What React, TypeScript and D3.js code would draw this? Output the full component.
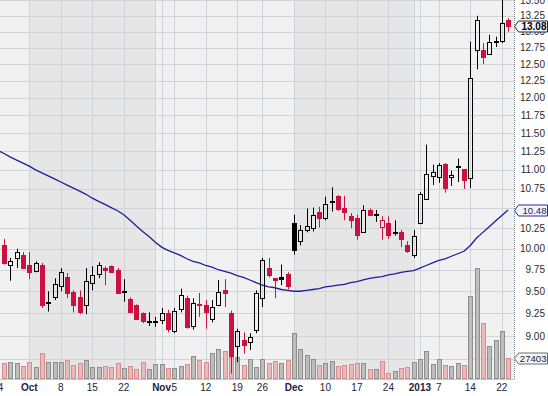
import React, { useEffect, useRef } from 'react';
import * as d3 from 'd3';

// trading days on screen, Sep 24 2012 .. Jan 23 2013 (Oct 29-30 closed)
const dates = [
  '2012-09-24', '2012-09-25', '2012-09-26', '2012-09-27', '2012-09-28',
  '2012-10-01', '2012-10-02', '2012-10-03', '2012-10-04', '2012-10-05',
  '2012-10-08', '2012-10-09', '2012-10-10', '2012-10-11', '2012-10-12',
  '2012-10-15', '2012-10-16', '2012-10-17', '2012-10-18', '2012-10-19',
  '2012-10-22', '2012-10-23', '2012-10-24', '2012-10-25', '2012-10-26', '2012-10-31',
  '2012-11-01', '2012-11-02', '2012-11-05', '2012-11-06', '2012-11-07', '2012-11-08', '2012-11-09',
  '2012-11-12', '2012-11-13', '2012-11-14', '2012-11-15', '2012-11-16',
  '2012-11-19', '2012-11-20', '2012-11-21', '2012-11-23',
  '2012-11-26', '2012-11-27', '2012-11-28', '2012-11-29', '2012-11-30',
  '2012-12-03', '2012-12-04', '2012-12-05', '2012-12-06', '2012-12-07',
  '2012-12-10', '2012-12-11', '2012-12-12', '2012-12-13', '2012-12-14',
  '2012-12-17', '2012-12-18', '2012-12-19', '2012-12-20', '2012-12-21',
  '2012-12-24', '2012-12-26', '2012-12-27', '2012-12-28', '2012-12-31',
  '2013-01-02', '2013-01-03', '2013-01-04',
  '2013-01-07', '2013-01-08', '2013-01-09', '2013-01-10', '2013-01-11',
  '2013-01-14', '2013-01-15', '2013-01-16', '2013-01-17', '2013-01-18',
  '2013-01-22', '2013-01-23',
];

// candles start on Sep 25 (Sep 24 is off the left edge)
const open = [
  10.05, 9.81, 9.89, 9.93, 9.80, 9.73, 9.80, 9.37, 9.43, 9.56,
  9.66, 9.49, 9.43, 9.34, 9.60, 9.70, 9.77, 9.79, 9.75, 9.49,
  9.41, 9.34, 9.25, 9.16, 9.16, 9.18, 9.25, 9.05, 9.30, 9.42,
  9.11, 9.35, 9.34, 9.19, 9.34, 9.51, 9.25, 8.89, 8.96, 8.94,
  9.07, 9.42, 9.77, 9.65, 9.67, 9.70, 10.32, 10.10, 10.23, 10.26,
  10.46, 10.38, 10.59, 10.66, 10.50, 10.40, 10.38, 10.21, 10.48, 10.41,
  10.27, 10.31, 10.20, 10.21, 10.05, 9.93, 10.32, 10.62, 10.92, 10.91,
  11.08, 10.90, 11.04, 11.01, 10.89, 12.72, 12.72, 12.65, 12.84, 12.86,
  13.19,
];
const high = [
  10.12, 9.89, 10.00, 9.96, 9.96, 9.85, 9.83, 9.50, 9.65, 9.77,
  9.71, 9.51, 9.51, 9.77, 9.79, 9.84, 9.79, 9.80, 9.77, 9.64,
  9.43, 9.35, 9.26, 9.26, 9.21, 9.31, 9.29, 9.31, 9.53, 9.45,
  9.42, 9.48, 9.40, 9.40, 9.63, 9.64, 9.28, 9.08, 9.04, 9.03,
  9.51, 9.89, 9.89, 9.65, 9.81, 9.72, 10.42, 10.29, 10.50, 10.51,
  10.52, 10.65, 10.77, 10.67, 10.66, 10.44, 10.42, 10.54, 10.50, 10.48,
  10.40, 10.40, 10.35, 10.23, 10.09, 10.23, 10.71, 11.34, 11.07, 11.09,
  11.09, 10.99, 11.15, 11.01, 12.84, 13.25, 12.82, 12.95, 12.92, 13.60,
  13.21,
];
const low = [
  9.81, 9.62, 9.77, 9.76, 9.64, 9.72, 9.31, 9.27, 9.40, 9.50,
  9.42, 9.26, 9.24, 9.24, 9.51, 9.65, 9.57, 9.71, 9.47, 9.38,
  9.25, 9.18, 9.14, 9.11, 9.10, 9.13, 9.04, 9.03, 9.26, 9.08,
  9.07, 9.21, 9.08, 9.15, 9.33, 9.32, 8.60, 8.72, 8.81, 8.85,
  9.03, 9.32, 9.66, 9.42, 9.57, 9.52, 9.93, 10.04, 10.20, 10.21,
  10.26, 10.35, 10.46, 10.47, 10.35, 10.25, 10.11, 10.20, 10.41, 10.33,
  10.11, 10.12, 10.16, 10.02, 9.95, 9.89, 10.30, 10.61, 10.80, 10.83,
  10.70, 10.79, 10.84, 10.75, 10.76, 12.42, 12.50, 12.64, 12.76, 12.82,
  13.00,
];
const close = [
  9.83, 9.85, 9.96, 9.77, 9.72, 9.83, 9.34, 9.38, 9.58, 9.72,
  9.48, 9.34, 9.26, 9.62, 9.69, 9.81, 9.75, 9.72, 9.48, 9.50,
  9.26, 9.19, 9.16, 9.17, 9.17, 9.25, 9.08, 9.28, 9.46, 9.10,
  9.37, 9.34, 9.27, 9.32, 9.49, 9.48, 8.78, 9.05, 8.90, 8.99,
  9.48, 9.86, 9.69, 9.63, 9.64, 9.56, 9.98, 10.23, 10.28, 10.41,
  10.38, 10.55, 10.60, 10.49, 10.45, 10.35, 10.17, 10.48, 10.42, 10.43,
  10.35, 10.17, 10.20, 10.12, 9.97, 10.15, 10.69, 10.95, 10.97, 11.06,
  10.76, 10.93, 11.05, 10.87, 12.29, 13.18, 12.61, 12.83, 12.85, 13.13,
  13.08,
];
const volume = [
  21400, 21900, 20600, 16900, 21900, 15100, 34300, 21900, 21900, 21900,
  24700, 17800, 20600, 24700, 15100, 15100, 16900, 15100, 20600, 13700,
  16900, 12300, 21900, 12300, 19600, 20000, 13700, 13700, 17300, 19600,
  31000, 25100, 21900, 34300, 40100, 37400, 29600, 29200, 17800, 26000,
  15100, 26000, 21000, 23300, 20600, 24700, 61700, 39700, 31900, 26000,
  18200, 20600, 24100, 16900, 18200, 19200, 20600, 20600, 12300, 12300,
  23700, 6900, 10000, 13700, 15100, 21900, 26000, 37800, 19200, 26000,
  18200, 16900, 20600, 18200, 112800, 150700, 75400, 44300, 52500, 64800,
  27403,
];
// 50 day moving average, from Sep 24
const sma50 = [
  11.26, 11.22, 11.17, 11.13, 11.09, 11.05, 11.00, 10.96, 10.92, 10.88,
  10.84, 10.80, 10.76, 10.72, 10.68, 10.63, 10.59, 10.55, 10.51, 10.47,
  10.42, 10.35, 10.28, 10.21, 10.15, 10.08, 10.02, 9.98, 9.95, 9.92,
  9.88, 9.85, 9.83, 9.80, 9.78, 9.75, 9.73, 9.71, 9.68, 9.66,
  9.63, 9.60, 9.57, 9.55, 9.54, 9.52, 9.51, 9.50, 9.50, 9.51,
  9.52, 9.53, 9.55, 9.56, 9.57, 9.58, 9.60, 9.61, 9.63, 9.65,
  9.66, 9.67, 9.69, 9.70, 9.72, 9.73, 9.74, 9.77, 9.80, 9.83,
  9.86, 9.88, 9.91, 9.94, 9.97, 10.04, 10.13, 10.20, 10.27, 10.34,
  10.41, 10.48,
];

const priceTicks = [
  8.75, 9.0, 9.25, 9.5, 9.75, 10.0, 10.25, 10.5, 10.75, 11.0,
  11.25, 11.5, 11.75, 12.0, 12.25, 12.5, 12.75, 13.0, 13.25, 13.5,
];
const dateTicks = [
  '2012-09-24', '2012-10-01', '2012-10-08', '2012-10-15', '2012-10-22', '2012-10-31',
  '2012-11-01', '2012-11-05', '2012-11-12', '2012-11-19', '2012-11-26',
  '2012-12-03', '2012-12-10', '2012-12-17', '2012-12-24', '2012-12-31',
  '2013-01-02', '2013-01-07', '2013-01-14', '2013-01-22',
];
const dateTickLabels = [
  '24', 'Oct', '8', '15', '22', '',
  'Nov', '5', '12', '19', '26',
  'Dec', '10', '17', '24', '',
  '2013', '7', '14', '22',
];
const boldLabels = ['Oct', 'Nov', 'Dec', '2013'];
// shaded months: [first day, last day]
const shadedMonths = [
  ['2012-10-01', '2012-10-31'],
  ['2012-12-03', '2012-12-31'],
];

const App = () => {
  const svgRef = useRef<SVGSVGElement>(null);

  const W = 548;
  const H = 396;
  const right = 514;
  const bottom = 379;
  const font = "'Liberation Sans', Arial, sans-serif";

  useEffect(() => {
    const svg = d3.select(svgRef.current);
    svg.selectAll('*').remove();

    const x = d3.scaleLinear().domain([0, dates.length - 1]).range([-2.2, 508.1]);
    const y = d3.scaleLog().domain([9, 13.5]).range([336, 0.3]);
    const yVol = d3.scaleLinear().domain([0, 150000]).range([378.3, 268.8]);
    const xd = (d: string) => x(dates.indexOf(d));

    svg.append('rect').attr('width', W).attr('height', H).attr('fill', '#ffffff');

    const defs = svg.append('defs');
    defs.append('clipPath').attr('id', 'plotClip')
      .append('rect').attr('x', 0).attr('y', 0).attr('width', right).attr('height', bottom);

    const plot = svg.append('g').attr('clip-path', 'url(#plotClip)');
    plot.append('rect').attr('width', right).attr('height', bottom).attr('fill', '#f1f1f1');

    plot.selectAll('.shade')
      .data(shadedMonths)
      .enter()
      .append('rect')
      .attr('x', d => xd(d[0]))
      .attr('y', 0)
      .attr('width', d => xd(d[1]) - xd(d[0]))
      .attr('height', bottom)
      .attr('fill', '#e6e6e6');

    // grid
    plot.selectAll('.hgrid')
      .data(priceTicks)
      .enter()
      .append('line')
      .attr('x1', 0).attr('x2', right)
      .attr('y1', d => Math.round(y(d)) + 0.5)
      .attr('y2', d => Math.round(y(d)) + 0.5)
      .attr('stroke', '#cfd4d9').attr('stroke-width', 1);
    plot.selectAll('.vgrid')
      .data(dateTicks)
      .enter()
      .append('line')
      .attr('x1', d => Math.round(xd(d)) + 0.5)
      .attr('x2', d => Math.round(xd(d)) + 0.5)
      .attr('y1', 0).attr('y2', bottom)
      .attr('stroke', '#cfd4d9').attr('stroke-width', 1);

    const isUp = (i: number) => (i === 0 ? close[0] >= open[0] : close[i] >= close[i - 1]);

    // volume
    plot.selectAll('.vol')
      .data(volume)
      .enter()
      .append('rect')
      .attr('x', (d, i) => Math.round(x(i + 1)) - 2 + 0.5)
      .attr('y', d => Math.round(yVol(d)) + 0.5)
      .attr('width', 4)
      .attr('height', d => Math.max(0, Math.round(yVol(0)) - Math.round(yVol(d))))
      .attr('fill', (d, i) => (isUp(i) ? '#bdbdbd' : '#ebb9b9'))
      .attr('stroke', (d, i) => (isUp(i) ? '#8e8e8e' : '#d48e8e'))
      .attr('stroke-width', 1);

    // moving average
    const line = d3.line<number>().x((d, i) => x(i)).y(d => y(d));
    plot.append('path')
      .attr('d', line(sma50))
      .attr('fill', 'none')
      .attr('stroke', '#1f1f9c')
      .attr('stroke-width', 1.3);

    // candles
    const candles = plot.selectAll('.candle')
      .data(close)
      .enter()
      .append('g');
    candles.each(function (c, i) {
      const g = d3.select(this);
      const cx = Math.round(x(i + 1)) + 0.5;
      const color = isUp(i) ? '#000000' : '#cc1040';
      const yo = Math.round(y(open[i]));
      const yc = Math.round(y(c));
      const top = Math.min(yo, yc);
      const bot = Math.max(yo, yc);
      g.append('line').attr('x1', cx).attr('x2', cx)
        .attr('y1', y(high[i])).attr('y2', top)
        .attr('stroke', color).attr('stroke-width', 1);
      g.append('line').attr('x1', cx).attr('x2', cx)
        .attr('y1', bot).attr('y2', y(low[i]))
        .attr('stroke', color).attr('stroke-width', 1);
      g.append('rect')
        .attr('x', cx - 2)
        .attr('y', top + 0.5)
        .attr('width', 4)
        .attr('height', Math.max(bot - top, 1))
        .attr('fill', c > open[i] ? 'none' : color)
        .attr('stroke', color)
        .attr('stroke-width', 1);
    });

    // axes
    svg.append('line')
      .attr('x1', right + 0.5).attr('x2', right + 0.5)
      .attr('y1', 0).attr('y2', bottom)
      .attr('stroke', '#7c8690').attr('stroke-dasharray', '1,1');
    svg.append('line')
      .attr('x1', 0).attr('x2', right)
      .attr('y1', bottom + 0.5).attr('y2', bottom + 0.5)
      .attr('stroke', '#c4c8cc');

    const last = close.length - 1;
    const lastSma = sma50[sma50.length - 1];
    // labels fully hidden under the value tags are left out
    const tagYs = [y(close[last]), y(lastSma), yVol(volume[last])];
    const shownTicks = priceTicks.filter(p => tagYs.every(t => Math.abs(y(p) - t) > 3));

    svg.selectAll('.plabel')
      .data(shownTicks)
      .enter()
      .append('text')
      .attr('x', 545)
      .attr('y', d => y(d) + 3.6)
      .attr('text-anchor', 'end')
      .attr('font-family', font)
      .attr('font-size', 10)
      .attr('fill', '#2b2b2b')
      .text(d => d.toFixed(2));

    svg.selectAll('.dlabel')
      .data(dateTicks)
      .enter()
      .append('text')
      .attr('x', d => xd(d))
      .attr('y', 390.5)
      .attr('text-anchor', 'middle')
      .attr('font-family', font)
      .attr('font-size', 10)
      .attr('font-weight', (d, i) => (boldLabels.includes(dateTickLabels[i]) ? 'bold' : 'normal'))
      .attr('fill', '#1c2440')
      .text((d, i) => dateTickLabels[i]);

    // value tags on the right
    const tag = (yy: number, txt: string, stroke: string, textColor: string, bold: boolean) => {
      const yc = Math.round(yy) + 0.5;
      svg.append('path')
        .attr('d', `M${right + 0.5},${yc} L${518.5},${yc - 5.5} L${547.5},${yc - 5.5} L${547.5},${yc + 5.5} L${518.5},${yc + 5.5} Z`)
        .attr('fill', '#f4f6f9')
        .attr('stroke', stroke)
        .attr('stroke-width', 1);
      svg.append('text')
        .attr('x', 546.5)
        .attr('y', yc + 3.6)
        .attr('text-anchor', 'end')
        .attr('font-family', font)
        .attr('font-size', bold ? 10 : 9.6)
        .attr('font-weight', bold ? 'bold' : 'normal')
        .attr('fill', textColor)
        .text(txt);
    };
    tag(y(close[last]), close[last].toFixed(2), '#1b2540', '#000000', true);
    tag(y(lastSma), lastSma.toFixed(2), '#2a2a9a', '#1a1a6a', false);
    tag(yVol(volume[last]), String(volume[last]), '#5f6f80', '#222222', false);
  }, []);

  return (
    <div style={{ position: 'absolute', left: 0, top: 0 }}>
      <svg ref={svgRef} width={W} height={H}></svg>
    </div>
  );
};

export default App;
